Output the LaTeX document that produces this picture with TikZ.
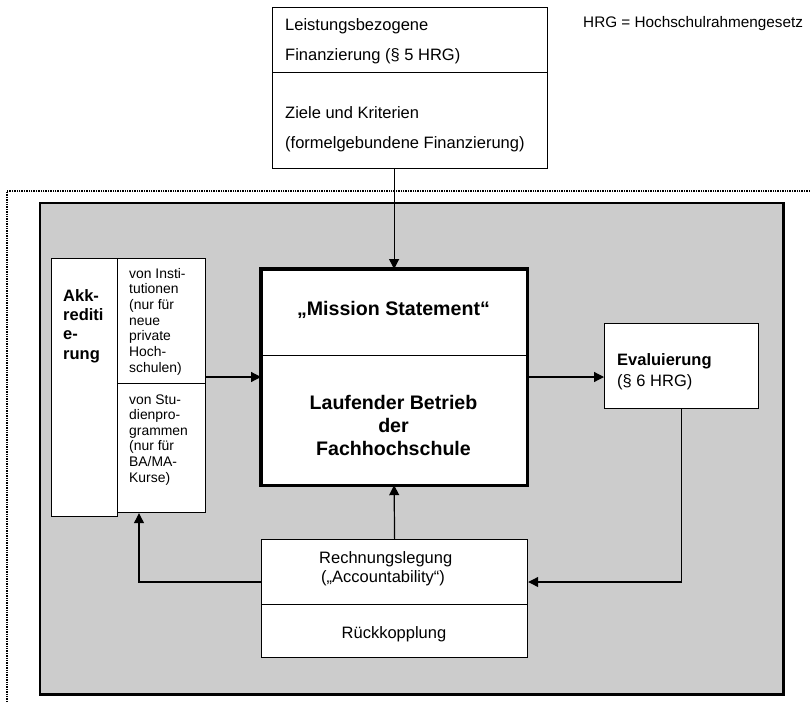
\documentclass[tikz,border=0pt]{standalone}
\usepackage{fontspec}
\setmainfont{Liberation Sans}
\usetikzlibrary{arrows.meta}

\definecolor{panelgray}{RGB}{204,204,204}

% font sizes used in the diagram
\newcommand{\fsBox}{\fontsize{16.5}{19}\selectfont}
\newcommand{\fsNote}{\fontsize{15.3}{18}\selectfont}
\newcommand{\fsSmall}{\fontsize{13.9}{15.7}\selectfont}
\newcommand{\fsHead}{\fontsize{19.6}{23}\selectfont\bfseries}
\newcommand{\fsBold}{\fontsize{16.5}{19}\selectfont\bfseries}

\begin{document}
\begin{tikzpicture}[x=1pt,y=-1pt,
  box/.style={draw=black, fill=white, line width=1.2pt, inner sep=0pt, anchor=north west},
  lbl/.style={inner sep=0pt, anchor=base west},
  clbl/.style={inner sep=0pt, anchor=base},
  link/.style={draw=black, line width=1.2pt, -{Triangle[length=10pt,width=10pt]}},
  frameline/.style={draw=black, line width=1.4pt, densely dotted}
]
\useasboundingbox (0,0) rectangle (810,701);

% outer dotted frame (open to the right and bottom)
\draw[frameline] (810,191) -- (7,191) -- (7,701);

% gray panel with heavier right and bottom edges
\fill[panelgray] (40,203) rectangle (783,693);
\draw[line width=1.2pt] (40,693) -- (40,203) -- (783,203);
\draw[line width=3pt] (783,202) -- (783,694) -- (39,694);

% financing box
\node[box, minimum width=275pt, minimum height=65pt] (finA) at (272,7) {};
\node[box, minimum width=275pt, minimum height=96pt] (finB) at (272,72) {};
\node[lbl] (finA1) at (285,31) {\fsBox Leistungsbezogene};
\node[lbl] (finA2) at (285,60) {\fsBox Finanzierung (§ 5 HRG)};
\node[lbl] (finB1) at (285,118) {\fsBox Ziele und Kriterien};
\node[lbl] (finB2) at (285,148) {\fsBox (formelgebundene Finanzierung)};

% abbreviation note
\node[lbl] (note) at (583,28) {\fsNote HRG = Hochschulrahmengesetz};

% central box
\node[box, minimum width=265pt, minimum height=86pt] (miss) at (261,269) {};
\node[box, minimum width=265pt, minimum height=129pt] (betr) at (261,355) {};
\draw[line width=3.2pt] (miss.north west) rectangle (betr.south east);
\node[clbl] (missT) at (393.5,315) {\fsHead „Mission Statement“};
\node[clbl] (betr1) at (393.5,409) {\fsHead Laufender Betrieb};
\node[clbl] (betr2) at (393.5,432) {\fsHead der};
\node[clbl] (betr3) at (393.5,455) {\fsHead Fachhochschule};

% accreditation boxes
\node[box, minimum width=66pt, minimum height=258pt] (akk) at (51,258) {};
\node[box, minimum width=88pt, minimum height=125pt] (inst) at (117,258) {};
\node[box, minimum width=88pt, minimum height=129pt] (stud) at (117,383) {};
\node[lbl] (akk1) at (63,301) {\fsBold Akk-};
\node[lbl] (akk2) at (63,320) {\fsBold rediti};
\node[lbl] (akk3) at (63,339) {\fsBold e-};
\node[lbl] (akk4) at (63,359) {\fsBold rung};
\foreach \t [count=\i] in {{von Insti-},{tutionen},{(nur für},{neue},{private},{Hoch-},{schulen)}}
  \node[lbl] (instT\i) at (129,{278+15.7*(\i-1)}) {\fsSmall \t};
\foreach \t [count=\i] in {{von Stu-},{dienpro-},{grammen},{(nur für},{BA/MA-},{Kurse)}}
  \node[lbl] (studT\i) at (129,{404+15.6*(\i-1)}) {\fsSmall \t};

% evaluation box
\node[box, minimum width=154pt, minimum height=85pt] (eval) at (604,323) {};
\node[lbl] (eval1) at (617,365) {\fsBold Evaluierung};
\node[lbl] (eval2) at (617,386) {\fsBox (§ 6 HRG)};

% accounting / feedback box
\node[box, minimum width=266pt, minimum height=65pt] (rech) at (261,539) {};
\node[box, minimum width=266pt, minimum height=53pt] (rueck) at (261,604) {};
\node[lbl] (rech1) at (319,563) {\fsBox Rechnungslegung};
\node[lbl] (rech2) at (321,582) {\fsBox („Accountability“)};
\node[clbl] (rueckT) at (394,638) {\fsBox Rückkopplung};

% connector levels
\coordinate (flowY) at (0,377);
\coordinate (backY) at (0,582);
\coordinate (leftX) at (139,0);

% connectors
\draw[link] (miss.north |- finB.south) -- (miss.north);
\draw[link] (inst.east |- flowY) -- (miss.west |- flowY);
\draw[link] (betr.east |- flowY) -- (eval.west |- flowY);
\draw[link] (eval.south) |- (rech.east |- backY);
\draw[link] (rech.north) -- (betr.south);
\draw[link] (rech.west |- backY) -| (leftX |- stud.south);
\end{tikzpicture}
\end{document}
